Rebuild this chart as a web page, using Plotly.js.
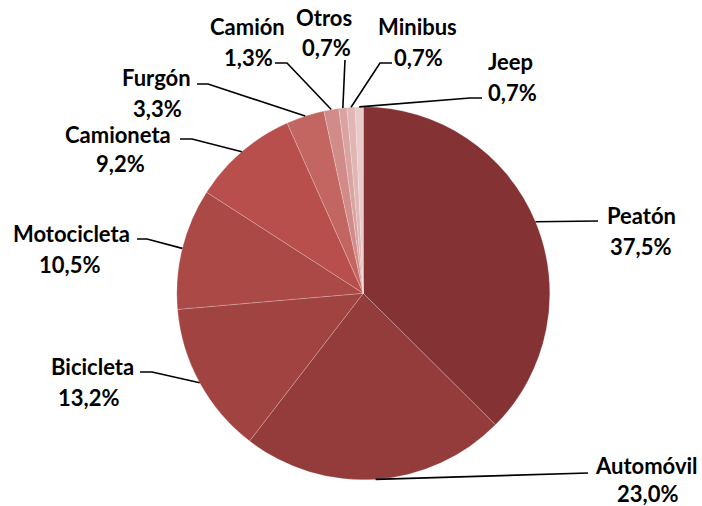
<!DOCTYPE html>
<html>
<head>
<meta charset="utf-8">
<script src="https://cdn.plot.ly/plotly-3.0.1.min.js"></script>
<style>html,body{margin:0;padding:0;background:#fff;}#chart{width:702px;height:506px;}</style>
</head>
<body>
<div id="chart"></div>
<script>
// ---- data ----
const categories = ["Peatón", "Automóvil", "Bicicleta", "Motocicleta", "Camioneta", "Furgón", "Camión", "Otros", "Minibus", "Jeep"];
const values = [37.5, 23.0, 13.2, 10.5, 9.2, 3.3, 1.3, 0.7, 0.7, 0.7];
const valueLabels = ["37,5%", "23,0%", "13,2%", "10,5%", "9,2%", "3,3%", "1,3%", "0,7%", "0,7%", "0,7%"];

// ---- styles / layout ----
const colors = ["#843234", "#943c3b", "#a04341", "#ab4946", "#b84f4d", "#c36662", "#d18c89", "#d9a3a1", "#e0b5b3", "#e9cbca"];
const W = 702, H = 506;
const CX = 363.3, CY = 293.3, R = 186.5;
// label layout (pixels): name centre, value centre, elbow, end of leader
const labelLayout = [
  {n:[641,215], v:[640,246], elbow:[598,221], end:[598,221]},
  {n:[646,465], v:[647,493], elbow:[588,473], end:[588,473]},
  {n:[92,366],  v:[88,397],  elbow:[152,372], end:[140,372]},
  {n:[71,233],  v:[69,264],  elbow:[147,239], end:[137,239]},
  {n:[118,134], v:[120,163], elbow:[192,139], end:[180,139]},
  {n:[156,77],  v:[157,108], elbow:[208,84],  end:[197,84]},
  {n:[247,26],  v:[248,57],  elbow:[287,63],  end:[275,63]},
  {n:[324,17],  v:[326,47],  elbow:[345,60],  end:[345,60]},
  {n:[417,26],  v:[418,57],  elbow:[380,63],  end:[392,63]},
  {n:[510,62],  v:[512,92],  elbow:[470,98],  end:[482,98]}
];
const px = x => x / W;
const py = y => 1 - y / H;

const trace = {
  type: "pie",
  labels: categories,
  values: values,
  sort: false,
  direction: "clockwise",
  rotation: 0,
  textinfo: "none",
  hoverinfo: "label+percent",
  marker: {colors: colors, line: {color: "rgba(255,255,255,0.35)", width: 0.6}},
  domain: {x: [px(CX - R), px(CX + R)], y: [py(CY + R), py(CY - R)]},
  showlegend: false
};

const total = values.reduce((a, b) => a + b, 0);
const annotations = [];
const shapes = [];
const font = {family: "Lato, 'Open Sans', sans-serif", size: 22, color: "#000"};
let cum = 0;
categories.forEach((c, i) => {
  const mid = (cum + values[i] / 2) / total * 2 * Math.PI;
  cum += values[i];
  const ex = CX + R * Math.sin(mid), ey = CY - R * Math.cos(mid);
  const L = labelLayout[i];
  shapes.push({
    type: "path", xref: "paper", yref: "paper",
    path: `M ${px(ex)} ${py(ey)} L ${px(L.elbow[0])} ${py(L.elbow[1])} L ${px(L.end[0])} ${py(L.end[1])}`,
    line: {color: "#000", width: 1.6}
  });
  annotations.push({text: "<b>" + c + "</b>", x: px(L.n[0]), y: py(L.n[1]), xref: "paper", yref: "paper",
    xanchor: "center", yanchor: "middle", showarrow: false, font: font});
  annotations.push({text: "<b>" + valueLabels[i] + "</b>", x: px(L.v[0]), y: py(L.v[1]), xref: "paper", yref: "paper",
    xanchor: "center", yanchor: "middle", showarrow: false, font: font});
});

const layout = {
  width: W, height: H,
  margin: {l: 0, r: 0, t: 0, b: 0},
  paper_bgcolor: "#fff",
  showlegend: false,
  annotations: annotations,
  shapes: shapes
};
Plotly.newPlot("chart", [trace], layout, {displayModeBar: false, staticPlot: true});
</script>
</body>
</html>
